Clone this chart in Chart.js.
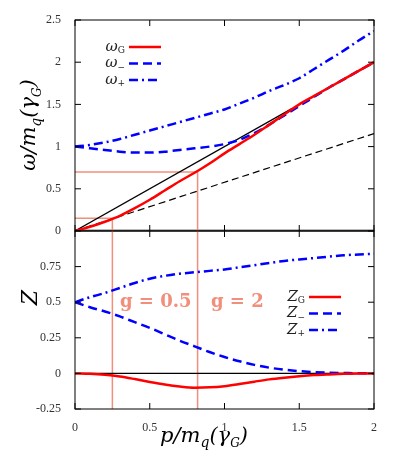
<!DOCTYPE html><html><head><meta charset="utf-8">
<script src="https://cdn.jsdelivr.net/npm/chart.js@4"></script>
<style>body{margin:0;background:#fff;width:415px;height:464px;position:relative;overflow:hidden;font-family:"Liberation Serif",serif}
canvas{position:absolute;left:0;top:0}
.t{position:absolute;font-family:"DejaVu Serif",serif;white-space:nowrap}
</style></head><body>
<canvas id="c1" width="415" height="464"></canvas>
<canvas id="c2" width="415" height="464"></canvas>
<div class="t" style="top:125px;transform:translate(-50%,-50%) rotate(-90deg);transform-origin:center;left:30px;font-size:21px;font-style:italic">ω/m<sub style="font-size:14px">q</sub>(γ<sub style="font-size:12px">G</sub>)</div>
<div class="t" style="left:22px;top:285px;font-size:22px;font-style:italic;transform:rotate(-90deg)">Z</div>
<div class="t" style="left:160px;top:423px;font-size:21px;font-style:italic">p/m<sub style="font-size:14px">q</sub>(γ<sub style="font-size:12px">G</sub>)</div>
<script>
const P=[0,0.1,0.2,0.3,0.4,0.5,0.6,0.7,0.8,0.9,1.0,1.1,1.2,1.3,1.4,1.5,1.6,1.7,1.8,1.9,2.0];
const omegaG=[0,0.05,0.11,0.18,0.27,0.37,0.48,0.59,0.69,0.8,0.92,1.03,1.14,1.26,1.38,1.5,1.6,1.7,1.8,1.9,2.0];
const omegaMinus=[1,0.98,0.96,0.94,0.93,0.93,0.94,0.96,0.98,1.0,1.03,1.08,1.16,1.26,1.37,1.48,1.59,1.7,1.8,1.9,2.0];
const omegaPlus=[1,1.02,1.05,1.09,1.14,1.19,1.24,1.29,1.34,1.39,1.44,1.51,1.58,1.66,1.73,1.81,1.92,2.03,2.14,2.26,2.37];
const ZG=[0,-0.003,-0.01,-0.022,-0.04,-0.06,-0.078,-0.092,-0.1,-0.098,-0.09,-0.075,-0.058,-0.042,-0.03,-0.02,-0.012,-0.007,-0.003,-0.001,0];
const ZMinus=[0.5,0.465,0.435,0.4,0.36,0.32,0.275,0.23,0.19,0.15,0.115,0.085,0.06,0.04,0.026,0.016,0.009,0.005,0.003,0.001,0];
const ZPlus=[0.5,0.535,0.565,0.6,0.635,0.665,0.685,0.7,0.71,0.72,0.73,0.745,0.76,0.775,0.79,0.8,0.81,0.82,0.83,0.835,0.84];
const lightLine=[0,1.45], soundSlope=0.577;
const gMarks=[{p:0.25,w:0.15,label:"g = 0.5"},{p:0.82,w:0.7,label:"g = 2"}];
const topTicks=[0,0.5,1,1.5,2,2.5], botTicks=[-0.25,0,0.25,0.5,0.75], xTicks=[0,0.5,1,1.5,2];
const RED="#ff0000",BLUE="#0000ff",SAL="rgba(240,130,110,0.9)";
const dash=[9,5],dashdot=[9,4,2,4];
const pts=a=>P.map((x,i)=>({x,y:a[i]}));
const L=(data,c,w,d)=>({data,borderColor:c,borderWidth:w,borderDash:d||[],pointRadius:0,cubicInterpolationMode:'monotone',fill:false});
const frame={id:'frame',afterDraw(ch,a,o){const{ctx,chartArea:c,scales}=ch;ctx.save();ctx.strokeStyle='#000';ctx.lineWidth=1;ctx.setLineDash([]);
 ctx.strokeRect(c.left,c.top,c.right-c.left,c.bottom-c.top);
 for(const v of xTicks){const X=scales.x.getPixelForValue(v);ctx.beginPath();ctx.moveTo(X,c.bottom);ctx.lineTo(X,c.bottom-6);ctx.moveTo(X,c.top);ctx.lineTo(X,c.top+6);ctx.stroke();}
 for(const v of o.yt){const Y=scales.y.getPixelForValue(v);ctx.beginPath();ctx.moveTo(c.left,Y);ctx.lineTo(c.left+6,Y);ctx.moveTo(c.right,Y);ctx.lineTo(c.right-6,Y);ctx.stroke();}
 ctx.fillStyle='#222';ctx.textBaseline='middle';
 o.leg.forEach((e,i)=>{const y=o.ly+i*16.5;ctx.font='9px "DejaVu Serif", serif';const sw=ctx.measureText(e[1]).width;
  ctx.textAlign='right';ctx.fillText(e[1],o.lx,y+4);ctx.font='italic 15px "DejaVu Serif", serif';ctx.fillText(e[0],o.lx-sw,y);
  ctx.strokeStyle=e[2];ctx.lineWidth=2.5;ctx.setLineDash(e[3]);ctx.beginPath();ctx.moveTo(o.lx+4,y);ctx.lineTo(o.lx+36,y);ctx.stroke();});
 if(o.g){ctx.setLineDash([]);ctx.font='bold 18px "DejaVu Serif", serif';ctx.fillStyle='rgba(240,130,110,0.9)';ctx.textAlign='left';ctx.fillText(gMarks[0].label,120,302);ctx.fillText(gMarks[1].label,211,302);}
 ctx.restore();}};
const fitY=s=>{s.width=75};
const tickFont={family:'"Liberation Serif", serif',size:12};
const fmt=v=>String(v);
const lines1=[L(pts(omegaG),RED,2.5),L(pts(omegaMinus),BLUE,2.5,dash),L(pts(omegaPlus),BLUE,2.5,dashdot),
 {data:lightLine.map(x=>({x,y:x})),borderColor:'#000',borderWidth:1.2,pointRadius:0},
 {data:[0,2].map(x=>({x,y:x*soundSlope})),borderColor:'#000',borderWidth:1.2,borderDash:[7,4],pointRadius:0}];
gMarks.forEach(g=>{lines1.push({data:[{x:0,y:g.w},{x:g.p,y:g.w},{x:g.p,y:0}],borderColor:SAL,borderWidth:1.5,pointRadius:0,tension:0});});
lines1.push({data:[{x:0,y:0},{x:2,y:0}],borderColor:'#777',borderWidth:3,pointRadius:0});
new Chart(c1,{type:'line',data:{datasets:lines1},plugins:[frame],options:{animation:false,responsive:false,events:[],
 layout:{padding:{top:20,right:41,bottom:233,left:0}},
 plugins:{legend:{display:false},tooltip:{enabled:false},frame:{yt:topTicks,lx:125,ly:47,leg:[["ω","G",RED,[]],["ω","−",BLUE,dash],["ω","+",BLUE,dashdot]]}},
 scales:{x:{type:'linear',min:0,max:2,afterFit:s=>{s.height=0},ticks:{display:false},grid:{display:false},border:{display:false}},
 y:{min:0,max:2.5,afterFit:fitY,afterBuildTicks:s=>{s.ticks=topTicks.map(v=>({value:v}))},ticks:{font:tickFont,color:'#333',padding:6,callback:fmt},grid:{display:false},border:{display:false}}}}});
const lines2=[L(pts(ZG),RED,2.5),L(pts(ZMinus),BLUE,2.5,dash),L(pts(ZPlus),BLUE,2.5,dashdot),
 {data:[{x:0,y:0},{x:2,y:0}],borderColor:'#000',borderWidth:1.2,pointRadius:0}];
gMarks.forEach(g=>{lines2.push({data:[{x:g.p,y:-0.25},{x:g.p,y:1}],borderColor:SAL,borderWidth:1.5,pointRadius:0});});
new Chart(c2,{type:'line',data:{datasets:lines2},plugins:[frame],options:{animation:false,responsive:false,events:[],
 layout:{padding:{top:231,right:41,bottom:0,left:0}},
 plugins:{legend:{display:false},tooltip:{enabled:false},frame:{g:true,yt:botTicks,lx:305,ly:297,leg:[["Z","G",RED,[]],["Z","−",BLUE,dash],["Z","+",BLUE,dashdot]]}},
 scales:{x:{type:'linear',min:0,max:2,afterFit:s=>{s.height=55},afterBuildTicks:s=>{s.ticks=xTicks.map(v=>({value:v}))},ticks:{font:tickFont,color:'#333',padding:4,callback:fmt,maxRotation:0},grid:{display:false},border:{display:false}},
 y:{min:-0.25,max:1,afterFit:fitY,afterBuildTicks:s=>{s.ticks=botTicks.map(v=>({value:v}))},ticks:{font:tickFont,color:'#333',padding:6,callback:fmt},grid:{display:false},border:{display:false}}}}});
</script></body></html>
